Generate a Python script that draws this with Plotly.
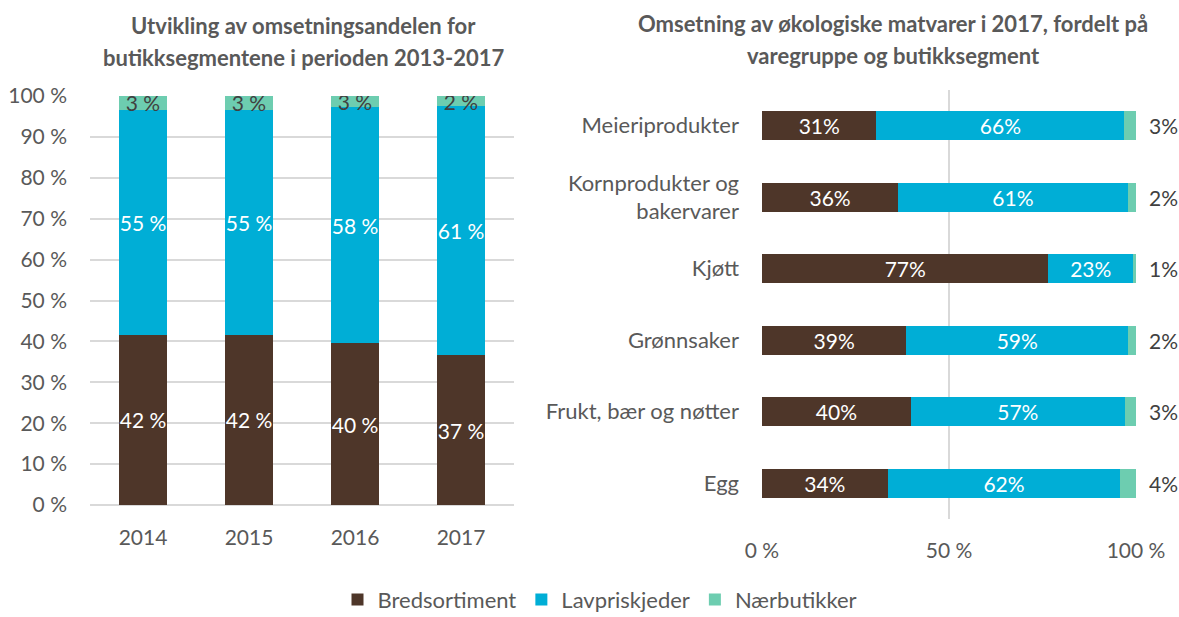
import plotly.graph_objects as go

# ---- data: left chart (share by year) ----
years = ["2014", "2015", "2016", "2017"]
bred_years = [41.6, 41.6, 39.6, 36.6]
lav_years = [55.0, 55.0, 57.6, 60.9]
naer_years = [3.4, 3.4, 2.8, 2.4]

# ---- data: right chart (2017 by product group) ----
groups = ["Meieriprodukter", "Kornprodukter og<br>bakervarer", "Kjøtt",
          "Grønnsaker", "Frukt, bær og nøtter", "Egg"]
bred_groups = [30.6, 36.4, 76.6, 38.6, 39.8, 33.6]
lav_groups = [66.3, 61.4, 22.6, 59.3, 57.2, 62.2]
naer_groups = [3.1, 2.2, 0.8, 2.1, 3.0, 4.2]

series_names = ["Bredsortiment", "Lavpriskjeder", "Nærbutikker"]
colors = ["#4E3629", "#00AED6", "#6DCDB0"]

FONT = "Lato"
GREY = "#595959"
W, H = 1179, 617

fig = go.Figure()

left_vals = [bred_years, lav_years, naer_years]
text_cols = ["white", "white", "#404040"]
for name, vals, col, tc in zip(series_names, left_vals, colors, text_cols):
    fig.add_trace(go.Bar(
        x=years, y=vals, name=name, marker=dict(color=col, line=dict(width=0)),
        text=[f"{round(v)} %" for v in vals], textposition="inside",
        insidetextanchor="middle", constraintext="none", textangle=0,
        textfont=dict(family=FONT, size=21, color=tc),
        width=0.45, xaxis="x", yaxis="y", legendgroup=name, showlegend=True,
        hoverinfo="skip"))

right_vals = [bred_groups, lav_groups, naer_groups]
for i, (name, vals, col) in enumerate(zip(series_names, right_vals, colors)):
    fig.add_trace(go.Bar(
        y=groups, x=vals, name=name, orientation="h",
        marker=dict(color=col, line=dict(width=0)),
        text=[f"{round(v)}%" for v in vals] if i < 2 else None,
        textposition="inside" if i < 2 else "none",
        insidetextanchor="middle", constraintext="none", textangle=0,
        textfont=dict(family=FONT, size=21, color="white"),
        width=0.41, xaxis="x2", yaxis="y2", legendgroup=name, showlegend=False,
        hoverinfo="skip"))

annotations = []
# outside labels for Nærbutikker on right chart
for g, b, l, n in zip(groups, bred_groups, lav_groups, naer_groups):
    annotations.append(dict(
        x=min(b + l + n, 100), y=g, xref="x2", yref="y2", text=f"{round(n)}%",
        showarrow=False, xanchor="left", xshift=11,
        font=dict(family=FONT, size=21, color="#404040")))

# titles
def title_line(txt, xc, yc):
    return dict(text=f"<b>{txt}</b>", x=xc / W, y=1 - yc / H, xref="paper", yref="paper",
                showarrow=False, xanchor="center", yanchor="middle",
                font=dict(family=FONT, size=22, color=GREY))

annotations += [
    title_line("Utvikling av omsetningsandelen for", 303, 25),
    title_line("butikksegmentene i perioden 2013-2017", 303, 57),
    title_line("Omsetning av økologiske matvarer i 2017, fordelt på", 893, 24),
    title_line("varegruppe og butikksegment", 893, 55),
]

numfont = dict(family=FONT, size=21, color=GREY)
catfont = dict(family=FONT, size=22, color=GREY)

fig.update_layout(
    width=W, height=H,
    margin=dict(l=0, r=0, t=0, b=0, autoexpand=False),
    paper_bgcolor="white", plot_bgcolor="white",
    barmode="stack",
    font=dict(family=FONT, color=GREY),
    xaxis=dict(domain=[90 / W, 514 / W], tickfont=numfont, showgrid=False,
               showline=False, ticks="", ticklabelstandoff=18, anchor="y"),
    yaxis=dict(domain=[1 - 505 / H, 1 - 96 / H], range=[0, 100], dtick=10,
               ticksuffix=" %", tickfont=numfont, showgrid=True, gridcolor="#D9D9D9",
               gridwidth=1.5, zeroline=True, zerolinecolor="#D9D9D9", zerolinewidth=1.5,
               showline=False, ticks="", ticklabelstandoff=22, anchor="x"),
    xaxis2=dict(domain=[762 / W, 1136 / W], range=[0, 100], tickvals=[0, 50, 100],
                ticktext=["0 %", "50 %", "100 %"], tickfont=numfont, showgrid=True,
                gridcolor="#D9D9D9", gridwidth=1.5, zeroline=False, showline=False,
                ticks="", ticklabelstandoff=17, anchor="y2"),
    yaxis2=dict(domain=[1 - 519 / H, 1 - 90 / H], autorange="reversed",
                tickfont=catfont, showgrid=False, showline=False, ticks="",
                ticklabelstandoff=22, anchor="x2"),
    legend=dict(orientation="h", x=600 / W, xanchor="center",
                y=-0.006, yanchor="bottom",
                font=dict(family=FONT, size=22, color=GREY),
                itemwidth=30, traceorder="normal", bgcolor="rgba(0,0,0,0)"),
    annotations=annotations,
)

fig.write_html("out.html", config={"displayModeBar": False},
               post_script="document.body.style.margin='0px';document.body.style.overflow='hidden';")
